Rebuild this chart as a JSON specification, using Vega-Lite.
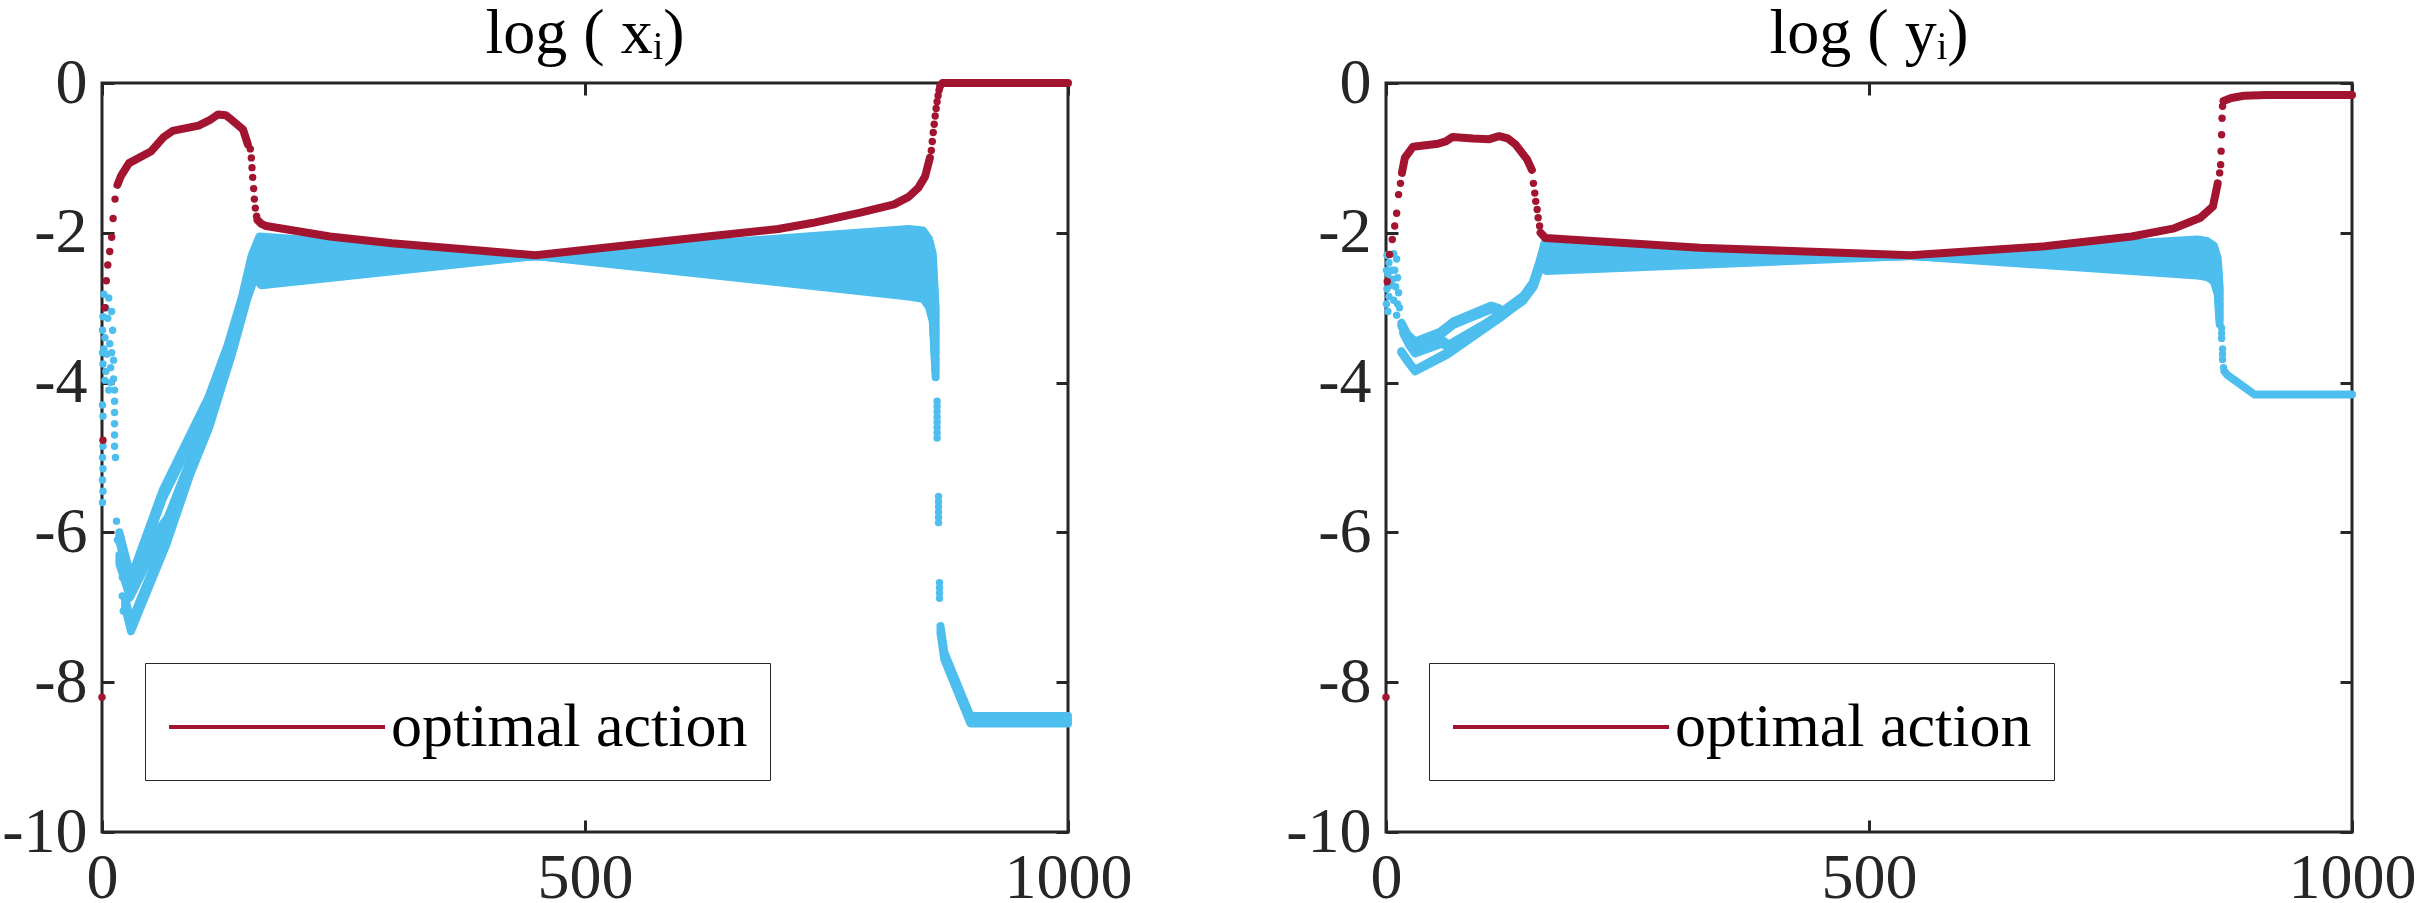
{
  "$schema": "https://vega.github.io/schema/vega-lite/v6.json",
  "padding": 0,
  "background": "white",
  "spacing": 150,
  "resolve": {"scale": {"color": "independent"}, "legend": {"color": "independent"}},
  "config": {
    "font": "Liberation Serif",
    "view": {"stroke": "#262626", "strokeWidth": 3},
    "axis": {
      "grid": false,
      "domain": false,
      "title": null,
      "tickColor": "#262626",
      "tickWidth": 3,
      "tickSize": -12,
      "labelFont": "Liberation Serif",
      "labelFontSize": 64,
      "labelColor": "#262626",
      "labelFlush": false,
      "labelOverlap": false,
      "labelExpr": "datum.value + ''"
    },
    "title": {"font": "Liberation Serif", "fontSize": 64, "fontWeight": "normal", "color": "#000000"}
  },
  "datasets": {
    "xLines": [
      {"k":"0","t":18,"v":-6.0},{"k":"0","t":30,"v":-6.6},{"k":"0","t":63,"v":-5.43},{"k":"0","t":110,"v":-4.2},{"k":"0","t":130,"v":-3.5},{"k":"0","t":145,"v":-2.85},{"k":"0","t":155,"v":-2.3},{"k":"0","t":163,"v":-2.05},{"k":"0","t":449,"v":-2.31},{"k":"0","t":835,"v":-2.85},{"k":"0","t":850,"v":-2.88},{"k":"0","t":856,"v":-2.99},{"k":"0","t":860,"v":-3.18},{"k":"0","t":863,"v":-3.93},
      {"k":"1","t":18,"v":-6.04},{"k":"1","t":30,"v":-6.64},{"k":"1","t":63,"v":-5.47},{"k":"1","t":110,"v":-4.24},{"k":"1","t":130,"v":-3.54},{"k":"1","t":145,"v":-2.89},{"k":"1","t":155,"v":-2.34},{"k":"1","t":163,"v":-2.11},{"k":"1","t":449,"v":-2.31},{"k":"1","t":835,"v":-2.77},{"k":"1","t":850,"v":-2.8},{"k":"1","t":856,"v":-2.91},{"k":"1","t":860,"v":-3.1},{"k":"1","t":863,"v":-3.85},
      {"k":"2","t":18,"v":-6.08},{"k":"2","t":30,"v":-6.68},{"k":"2","t":63,"v":-5.51},{"k":"2","t":110,"v":-4.28},{"k":"2","t":130,"v":-3.58},{"k":"2","t":145,"v":-2.93},{"k":"2","t":155,"v":-2.38},{"k":"2","t":163,"v":-2.17},{"k":"2","t":449,"v":-2.31},{"k":"2","t":835,"v":-2.69},{"k":"2","t":850,"v":-2.72},{"k":"2","t":856,"v":-2.83},{"k":"2","t":860,"v":-3.02},{"k":"2","t":863,"v":-3.77},
      {"k":"3","t":18,"v":-6.12},{"k":"3","t":30,"v":-6.72},{"k":"3","t":63,"v":-5.55},{"k":"3","t":110,"v":-4.32},{"k":"3","t":130,"v":-3.62},{"k":"3","t":145,"v":-2.97},{"k":"3","t":155,"v":-2.42},{"k":"3","t":163,"v":-2.23},{"k":"3","t":449,"v":-2.31},{"k":"3","t":835,"v":-2.61},{"k":"3","t":850,"v":-2.64},{"k":"3","t":856,"v":-2.75},{"k":"3","t":860,"v":-2.94},{"k":"3","t":863,"v":-3.69},
      {"k":"4","t":18,"v":-6.3},{"k":"4","t":29,"v":-6.75},{"k":"4","t":61,"v":-5.92},{"k":"4","t":68,"v":-5.8},{"k":"4","t":112,"v":-4.35},{"k":"4","t":133,"v":-3.55},{"k":"4","t":148,"v":-2.85},{"k":"4","t":158,"v":-2.4},{"k":"4","t":164,"v":-2.29},{"k":"4","t":449,"v":-2.31},{"k":"4","t":835,"v":-2.52},{"k":"4","t":850,"v":-2.55},{"k":"4","t":856,"v":-2.66},{"k":"4","t":860,"v":-2.85},{"k":"4","t":863,"v":-3.6},
      {"k":"5","t":18,"v":-6.34},{"k":"5","t":29,"v":-6.79},{"k":"5","t":61,"v":-5.96},{"k":"5","t":68,"v":-5.84},{"k":"5","t":112,"v":-4.39},{"k":"5","t":133,"v":-3.59},{"k":"5","t":148,"v":-2.89},{"k":"5","t":158,"v":-2.44},{"k":"5","t":164,"v":-2.35},{"k":"5","t":449,"v":-2.31},{"k":"5","t":835,"v":-2.44},{"k":"5","t":850,"v":-2.47},{"k":"5","t":856,"v":-2.58},{"k":"5","t":860,"v":-2.77},{"k":"5","t":863,"v":-3.52},
      {"k":"6","t":18,"v":-6.38},{"k":"6","t":29,"v":-6.83},{"k":"6","t":61,"v":-6.0},{"k":"6","t":68,"v":-5.88},{"k":"6","t":112,"v":-4.43},{"k":"6","t":133,"v":-3.63},{"k":"6","t":148,"v":-2.93},{"k":"6","t":158,"v":-2.48},{"k":"6","t":164,"v":-2.41},{"k":"6","t":449,"v":-2.31},{"k":"6","t":835,"v":-2.36},{"k":"6","t":850,"v":-2.39},{"k":"6","t":856,"v":-2.5},{"k":"6","t":860,"v":-2.69},{"k":"6","t":863,"v":-3.44},
      {"k":"7","t":18,"v":-6.42},{"k":"7","t":29,"v":-6.87},{"k":"7","t":61,"v":-6.04},{"k":"7","t":68,"v":-5.92},{"k":"7","t":112,"v":-4.47},{"k":"7","t":133,"v":-3.67},{"k":"7","t":148,"v":-2.97},{"k":"7","t":158,"v":-2.52},{"k":"7","t":164,"v":-2.46},{"k":"7","t":449,"v":-2.31},{"k":"7","t":835,"v":-2.28},{"k":"7","t":850,"v":-2.31},{"k":"7","t":856,"v":-2.42},{"k":"7","t":860,"v":-2.61},{"k":"7","t":863,"v":-3.36},
      {"k":"8","t":24,"v":-6.88},{"k":"8","t":30,"v":-7.2},{"k":"8","t":67,"v":-6.03},{"k":"8","t":91,"v":-5.12},{"k":"8","t":111,"v":-4.48},{"k":"8","t":135,"v":-3.48},{"k":"8","t":150,"v":-2.78},{"k":"8","t":158,"v":-2.48},{"k":"8","t":165,"v":-2.52},{"k":"8","t":449,"v":-2.31},{"k":"8","t":835,"v":-2.2},{"k":"8","t":850,"v":-2.23},{"k":"8","t":856,"v":-2.34},{"k":"8","t":860,"v":-2.53},{"k":"8","t":863,"v":-3.28},
      {"k":"9","t":24,"v":-6.92},{"k":"9","t":30,"v":-7.24},{"k":"9","t":67,"v":-6.07},{"k":"9","t":91,"v":-5.16},{"k":"9","t":111,"v":-4.52},{"k":"9","t":135,"v":-3.52},{"k":"9","t":150,"v":-2.82},{"k":"9","t":158,"v":-2.52},{"k":"9","t":165,"v":-2.58},{"k":"9","t":449,"v":-2.31},{"k":"9","t":835,"v":-2.11},{"k":"9","t":850,"v":-2.14},{"k":"9","t":856,"v":-2.25},{"k":"9","t":860,"v":-2.44},{"k":"9","t":863,"v":-3.19},
      {"k":"10","t":24,"v":-6.96},{"k":"10","t":30,"v":-7.28},{"k":"10","t":67,"v":-6.11},{"k":"10","t":91,"v":-5.2},{"k":"10","t":111,"v":-4.56},{"k":"10","t":135,"v":-3.56},{"k":"10","t":150,"v":-2.86},{"k":"10","t":158,"v":-2.56},{"k":"10","t":165,"v":-2.64},{"k":"10","t":449,"v":-2.31},{"k":"10","t":835,"v":-2.03},{"k":"10","t":850,"v":-2.05},{"k":"10","t":856,"v":-2.16},{"k":"10","t":860,"v":-2.36},{"k":"10","t":863,"v":-3.11},
      {"k":"11","t":24,"v":-7.0},{"k":"11","t":30,"v":-7.32},{"k":"11","t":67,"v":-6.15},{"k":"11","t":91,"v":-5.24},{"k":"11","t":111,"v":-4.6},{"k":"11","t":135,"v":-3.6},{"k":"11","t":150,"v":-2.9},{"k":"11","t":158,"v":-2.6},{"k":"11","t":165,"v":-2.7},{"k":"11","t":449,"v":-2.31},{"k":"11","t":835,"v":-1.95},{"k":"11","t":850,"v":-1.97},{"k":"11","t":856,"v":-2.08},{"k":"11","t":860,"v":-2.28},{"k":"11","t":863,"v":-3.03},
      {"k":"ta","t":868,"v":-7.25},{"k":"ta","t":872,"v":-7.6},{"k":"ta","t":899,"v":-8.45},{"k":"ta","t":1000,"v":-8.45},
      {"k":"tb","t":868,"v":-7.3},{"k":"tb","t":872,"v":-7.65},{"k":"tb","t":899,"v":-8.5},{"k":"tb","t":1000,"v":-8.5},
      {"k":"tc","t":868,"v":-7.35},{"k":"tc","t":872,"v":-7.7},{"k":"tc","t":899,"v":-8.55},{"k":"tc","t":1000,"v":-8.55}
    ],
    "xDots": [
      {"t":2,"v":-2.82},{"t":7,"v":-2.87},{"t":4,"v":-3.0},{"t":10,"v":-3.05},{"t":1,"v":-3.12},{"t":6,"v":-3.14},{"t":11,"v":-3.3},{"t":0.5,"v":-3.3},{"t":3,"v":-3.4},{"t":8,"v":-3.48},{"t":2,"v":-3.55},{"t":0.5,"v":-3.6},{"t":5,"v":-3.62},{"t":10,"v":-3.6},{"t":12,"v":-3.7},{"t":1,"v":-3.75},{"t":9,"v":-3.8},{"t":4,"v":-3.85},{"t":3,"v":-3.97},{"t":12,"v":-3.95},{"t":9,"v":-4.0},{"t":7,"v":-4.1},{"t":0.5,"v":-4.3},{"t":1,"v":-4.45},{"t":1,"v":-4.85},{"t":0.5,"v":-5.0},{"t":1,"v":-5.15},{"t":0.5,"v":-5.3},{"t":1,"v":-5.45},{"t":0.5,"v":-5.6},{"t":13,"v":-4.1},{"t":13,"v":-4.25},{"t":13,"v":-4.4},{"t":13,"v":-4.55},{"t":13,"v":-4.7},{"t":13,"v":-4.85},{"t":14,"v":-5.0},{"t":15,"v":-5.85},{"t":16,"v":-6.1},{"t":19,"v":-6.35},{"t":21,"v":-6.6},{"t":21,"v":-6.85},{"t":22,"v":-7.05},
      {"t":864.5,"v":-4.25},{"t":864.5,"v":-4.32},{"t":864.5,"v":-4.39},{"t":864.5,"v":-4.46},{"t":864.5,"v":-4.53},{"t":864.5,"v":-4.6},{"t":864.5,"v":-4.67},{"t":864.5,"v":-4.74},
      {"t":866,"v":-5.52},{"t":866,"v":-5.59},{"t":866,"v":-5.66},{"t":866,"v":-5.73},{"t":866,"v":-5.8},{"t":866,"v":-5.87},
      {"t":867,"v":-6.67},{"t":867,"v":-6.74},{"t":867,"v":-6.81},{"t":867,"v":-6.88}
    ],
    "xRed": [
      {"s":"optimal action","g":"a","t":16,"v":-1.36},{"s":"optimal action","g":"a","t":19.7,"v":-1.24},{"s":"optimal action","g":"a","t":28,"v":-1.07},{"s":"optimal action","g":"a","t":51,"v":-0.91},{"s":"optimal action","g":"a","t":64,"v":-0.72},{"s":"optimal action","g":"a","t":73,"v":-0.64},{"s":"optimal action","g":"a","t":100,"v":-0.57},{"s":"optimal action","g":"a","t":111,"v":-0.5},{"s":"optimal action","g":"a","t":120,"v":-0.42},{"s":"optimal action","g":"a","t":128,"v":-0.43},{"s":"optimal action","g":"a","t":135,"v":-0.5},{"s":"optimal action","g":"a","t":146,"v":-0.62},{"s":"optimal action","g":"a","t":151,"v":-0.82},
      {"s":"optimal action","g":"b","t":161,"v":-1.83},{"s":"optimal action","g":"b","t":165,"v":-1.88},{"s":"optimal action","g":"b","t":170,"v":-1.91},{"s":"optimal action","g":"b","t":236,"v":-2.05},{"s":"optimal action","g":"b","t":300,"v":-2.14},{"s":"optimal action","g":"b","t":449,"v":-2.3},{"s":"optimal action","g":"b","t":534,"v":-2.18},{"s":"optimal action","g":"b","t":634,"v":-2.04},{"s":"optimal action","g":"b","t":700,"v":-1.95},{"s":"optimal action","g":"b","t":735,"v":-1.87},{"s":"optimal action","g":"b","t":785,"v":-1.73},{"s":"optimal action","g":"b","t":820,"v":-1.62},{"s":"optimal action","g":"b","t":835,"v":-1.52},{"s":"optimal action","g":"b","t":845,"v":-1.4},{"s":"optimal action","g":"b","t":852,"v":-1.25},{"s":"optimal action","g":"b","t":857,"v":-1.0},
      {"s":"optimal action","g":"c","t":868,"v":-0.03},{"s":"optimal action","g":"c","t":870,"v":0},{"s":"optimal action","g":"c","t":1000,"v":0}
    ],
    "xRedDots": [
      {"t":0,"v":-8.2},{"t":1,"v":-4.77},{"t":3,"v":-3.0},{"t":4.5,"v":-2.64},{"t":6,"v":-2.43},{"t":8,"v":-2.25},{"t":10,"v":-2.06},{"t":11.5,"v":-1.81},{"t":13.5,"v":-1.55},
      {"t":153.5,"v":-0.88},{"t":154.6,"v":-1.0},{"t":155.3,"v":-1.13},{"t":156,"v":-1.26},{"t":157,"v":-1.41},{"t":157.7,"v":-1.55},{"t":158.7,"v":-1.67},{"t":160,"v":-1.78},
      {"t":858.5,"v":-0.9},{"t":859.5,"v":-0.78},{"t":860.5,"v":-0.66},{"t":861.5,"v":-0.55},{"t":862.5,"v":-0.44},{"t":863.5,"v":-0.34},{"t":864.5,"v":-0.25},{"t":865.5,"v":-0.17},{"t":866.5,"v":-0.1},{"t":867.3,"v":-0.06}
    ],
    "yLines": [
      {"k":"0","t":16,"v":-3.2},{"k":"0","t":22,"v":-3.35},{"k":"0","t":30,"v":-3.45},{"k":"0","t":56,"v":-3.32},{"k":"0","t":70,"v":-3.18},{"k":"0","t":109,"v":-2.97},{"k":"0","t":116,"v":-3.0},{"k":"0","t":121,"v":-3.04},{"k":"0","t":142,"v":-2.84},{"k":"0","t":152,"v":-2.66},{"k":"0","t":159,"v":-2.38},{"k":"0","t":164,"v":-2.14},{"k":"0","t":543,"v":-2.31},{"k":"0","t":840,"v":-2.57},{"k":"0","t":850,"v":-2.59},{"k":"0","t":857,"v":-2.65},{"k":"0","t":861,"v":-2.82},{"k":"0","t":863,"v":-3.22},
      {"k":"1","t":16,"v":-3.23},{"k":"1","t":22,"v":-3.38},{"k":"1","t":30,"v":-3.48},{"k":"1","t":56,"v":-3.35},{"k":"1","t":70,"v":-3.21},{"k":"1","t":109,"v":-3.0},{"k":"1","t":116,"v":-3.03},{"k":"1","t":121,"v":-3.07},{"k":"1","t":142,"v":-2.87},{"k":"1","t":152,"v":-2.69},{"k":"1","t":159,"v":-2.41},{"k":"1","t":164,"v":-2.19},{"k":"1","t":543,"v":-2.31},{"k":"1","t":840,"v":-2.5},{"k":"1","t":850,"v":-2.52},{"k":"1","t":857,"v":-2.58},{"k":"1","t":861,"v":-2.75},{"k":"1","t":863,"v":-3.15},
      {"k":"2","t":16,"v":-3.25},{"k":"2","t":22,"v":-3.4},{"k":"2","t":30,"v":-3.5},{"k":"2","t":56,"v":-3.37},{"k":"2","t":70,"v":-3.23},{"k":"2","t":109,"v":-3.02},{"k":"2","t":116,"v":-3.05},{"k":"2","t":121,"v":-3.09},{"k":"2","t":142,"v":-2.89},{"k":"2","t":152,"v":-2.71},{"k":"2","t":159,"v":-2.43},{"k":"2","t":164,"v":-2.25},{"k":"2","t":543,"v":-2.31},{"k":"2","t":840,"v":-2.43},{"k":"2","t":850,"v":-2.45},{"k":"2","t":857,"v":-2.51},{"k":"2","t":861,"v":-2.68},{"k":"2","t":863,"v":-3.08},
      {"k":"3","t":18,"v":-3.3},{"k":"3","t":24,"v":-3.45},{"k":"3","t":30,"v":-3.56},{"k":"3","t":58,"v":-3.43},{"k":"3","t":65,"v":-3.49},{"k":"3","t":104,"v":-3.2},{"k":"3","t":120,"v":-3.06},{"k":"3","t":142,"v":-2.86},{"k":"3","t":152,"v":-2.68},{"k":"3","t":159,"v":-2.42},{"k":"3","t":165,"v":-2.3},{"k":"3","t":543,"v":-2.31},{"k":"3","t":840,"v":-2.36},{"k":"3","t":850,"v":-2.38},{"k":"3","t":857,"v":-2.44},{"k":"3","t":861,"v":-2.61},{"k":"3","t":863,"v":-3.01},
      {"k":"4","t":18,"v":-3.33},{"k":"4","t":24,"v":-3.48},{"k":"4","t":30,"v":-3.59},{"k":"4","t":58,"v":-3.46},{"k":"4","t":65,"v":-3.52},{"k":"4","t":104,"v":-3.23},{"k":"4","t":120,"v":-3.09},{"k":"4","t":142,"v":-2.89},{"k":"4","t":152,"v":-2.71},{"k":"4","t":159,"v":-2.45},{"k":"4","t":165,"v":-2.35},{"k":"4","t":543,"v":-2.31},{"k":"4","t":840,"v":-2.3},{"k":"4","t":850,"v":-2.32},{"k":"4","t":857,"v":-2.38},{"k":"4","t":861,"v":-2.55},{"k":"4","t":863,"v":-2.95},
      {"k":"5","t":18,"v":-3.35},{"k":"5","t":24,"v":-3.5},{"k":"5","t":30,"v":-3.61},{"k":"5","t":58,"v":-3.48},{"k":"5","t":65,"v":-3.54},{"k":"5","t":104,"v":-3.25},{"k":"5","t":120,"v":-3.11},{"k":"5","t":142,"v":-2.91},{"k":"5","t":152,"v":-2.73},{"k":"5","t":159,"v":-2.47},{"k":"5","t":165,"v":-2.4},{"k":"5","t":543,"v":-2.31},{"k":"5","t":840,"v":-2.23},{"k":"5","t":850,"v":-2.25},{"k":"5","t":857,"v":-2.31},{"k":"5","t":861,"v":-2.48},{"k":"5","t":863,"v":-2.88},
      {"k":"6","t":16,"v":-3.58},{"k":"6","t":24,"v":-3.73},{"k":"6","t":30,"v":-3.83},{"k":"6","t":63,"v":-3.6},{"k":"6","t":120,"v":-3.1},{"k":"6","t":142,"v":-2.88},{"k":"6","t":153,"v":-2.7},{"k":"6","t":160,"v":-2.44},{"k":"6","t":166,"v":-2.46},{"k":"6","t":543,"v":-2.31},{"k":"6","t":840,"v":-2.16},{"k":"6","t":850,"v":-2.18},{"k":"6","t":857,"v":-2.24},{"k":"6","t":861,"v":-2.41},{"k":"6","t":863,"v":-2.81},
      {"k":"7","t":16,"v":-3.6},{"k":"7","t":24,"v":-3.75},{"k":"7","t":30,"v":-3.85},{"k":"7","t":63,"v":-3.63},{"k":"7","t":120,"v":-3.12},{"k":"7","t":142,"v":-2.9},{"k":"7","t":153,"v":-2.72},{"k":"7","t":160,"v":-2.46},{"k":"7","t":166,"v":-2.51},{"k":"7","t":543,"v":-2.31},{"k":"7","t":840,"v":-2.09},{"k":"7","t":850,"v":-2.11},{"k":"7","t":857,"v":-2.17},{"k":"7","t":861,"v":-2.34},{"k":"7","t":863,"v":-2.74},
      {"k":"t","t":868,"v":-3.85},{"k":"t","t":871,"v":-3.9},{"k":"t","t":899,"v":-4.16},{"k":"t","t":1000,"v":-4.16}
    ],
    "yDots": [
      {"t":1,"v":-2.3},{"t":3,"v":-2.4},{"t":8,"v":-2.28},{"t":11,"v":-2.35},{"t":0.5,"v":-2.5},{"t":6,"v":-2.5},{"t":9,"v":-2.5},{"t":2,"v":-2.55},{"t":12,"v":-2.6},{"t":7,"v":-2.62},{"t":4,"v":-2.65},{"t":5,"v":-2.7},{"t":10,"v":-2.72},{"t":1,"v":-2.75},{"t":13,"v":-2.8},{"t":3,"v":-2.85},{"t":8,"v":-2.9},{"t":0.5,"v":-2.95},{"t":12,"v":-2.95},{"t":14,"v":-3.0},{"t":2,"v":-3.05},{"t":11,"v":-3.1},
      {"t":865,"v":-3.27},{"t":865,"v":-3.34},{"t":865,"v":-3.41},{"t":866,"v":-3.55},{"t":866,"v":-3.62},{"t":866,"v":-3.69},{"t":867,"v":-3.8}
    ],
    "yRed": [
      {"s":"optimal action","g":"a","t":16.5,"v":-1.2},{"s":"optimal action","g":"a","t":19.5,"v":-1.0},{"s":"optimal action","g":"a","t":28,"v":-0.85},{"s":"optimal action","g":"a","t":54,"v":-0.81},{"s":"optimal action","g":"a","t":62,"v":-0.78},{"s":"optimal action","g":"a","t":69,"v":-0.72},{"s":"optimal action","g":"a","t":90,"v":-0.74},{"s":"optimal action","g":"a","t":107,"v":-0.75},{"s":"optimal action","g":"a","t":117,"v":-0.71},{"s":"optimal action","g":"a","t":126,"v":-0.74},{"s":"optimal action","g":"a","t":134,"v":-0.82},{"s":"optimal action","g":"a","t":146,"v":-1.02},{"s":"optimal action","g":"a","t":151,"v":-1.16},
      {"s":"optimal action","g":"b","t":160,"v":-2.0},{"s":"optimal action","g":"b","t":165,"v":-2.07},{"s":"optimal action","g":"b","t":325,"v":-2.2},{"s":"optimal action","g":"b","t":543,"v":-2.3},{"s":"optimal action","g":"b","t":682,"v":-2.18},{"s":"optimal action","g":"b","t":772,"v":-2.05},{"s":"optimal action","g":"b","t":816,"v":-1.94},{"s":"optimal action","g":"b","t":843,"v":-1.8},{"s":"optimal action","g":"b","t":856,"v":-1.65},{"s":"optimal action","g":"b","t":861,"v":-1.34},
      {"s":"optimal action","g":"c","t":867,"v":-0.24},{"s":"optimal action","g":"c","t":875,"v":-0.2},{"s":"optimal action","g":"c","t":888,"v":-0.17},{"s":"optimal action","g":"c","t":911,"v":-0.16},{"s":"optimal action","g":"c","t":1000,"v":-0.16}
    ],
    "yRedDots": [
      {"t":0,"v":-8.2},{"t":1.3,"v":-2.65},{"t":3.7,"v":-2.29},{"t":6.5,"v":-2.09},{"t":9,"v":-1.91},{"t":11,"v":-1.74},{"t":13,"v":-1.49},{"t":15,"v":-1.34},
      {"t":152.6,"v":-1.34},{"t":154,"v":-1.47},{"t":155,"v":-1.58},{"t":156.5,"v":-1.69},{"t":157.5,"v":-1.8},{"t":159,"v":-1.91},
      {"t":863,"v":-1.2},{"t":864,"v":-1.09},{"t":864.5,"v":-0.91},{"t":865,"v":-0.69},{"t":865.5,"v":-0.47},{"t":866,"v":-0.31}
    ]
  },
  "hconcat": [
    {
      "width": 966,
      "height": 749,
      "title": {"text": "log ( xᵢ)", "anchor": "middle", "offset": -15},
      "resolve": {"axis": {"x": "independent", "y": "independent"}},
      "layer": [
        {
          "data": {"name": "xLines"},
          "mark": {"type": "line", "color": "#4dbeee", "strokeWidth": 8, "strokeJoin": "round", "strokeCap": "round"},
          "encoding": {
            "x": {"field": "t", "type": "quantitative", "scale": {"domain": [0, 1000], "nice": false}, "axis": {"orient": "bottom", "values": [0, 500, 1000], "labelPadding": 26}},
            "y": {"field": "v", "type": "quantitative", "scale": {"domain": [-10, 0], "nice": false}, "axis": {"orient": "left", "values": [0, -2, -4, -6, -8, -10], "labelPadding": 27}},
            "detail": {"field": "k", "type": "nominal"}
          }
        },
        {
          "data": {"name": "xDots"},
          "mark": {"type": "circle", "color": "#4dbeee", "size": 55, "opacity": 1},
          "encoding": {
            "x": {"field": "t", "type": "quantitative", "axis": null},
            "y": {"field": "v", "type": "quantitative", "axis": null}
          }
        },
        {
          "data": {"name": "xRed"},
          "mark": {"type": "line", "strokeWidth": 8, "strokeJoin": "round", "strokeCap": "round"},
          "encoding": {
            "x": {"field": "t", "type": "quantitative", "axis": null},
            "y": {"field": "v", "type": "quantitative", "axis": null},
            "detail": {"field": "g", "type": "nominal"},
            "color": {
              "field": "s", "type": "nominal",
              "scale": {"domain": ["optimal action"], "range": ["#a2142f"]},
              "legend": {
                "title": null, "orient": "none", "legendX": 43, "legendY": 580, "padding": 22,
                "strokeColor": "#262626", "fillColor": "white", "cornerRadius": 0,
                "symbolType": "M-1,0H4.4", "symbolSize": 6400, "symbolStrokeWidth": 4, "symbolFillColor": "transparent", "symbolStrokeColor": "#a2142f",
                "labelOffset": 140, "labelLimit": 1000, "labelFont": "Liberation Serif", "labelFontSize": 62, "labelColor": "#000000"
              }
            }
          }
        },
        {
          "data": {"name": "xRedDots"},
          "mark": {"type": "circle", "color": "#a2142f", "size": 55, "opacity": 1},
          "encoding": {
            "x": {"field": "t", "type": "quantitative", "axis": {"orient": "top", "values": [0, 500, 1000], "labels": false}},
            "y": {"field": "v", "type": "quantitative", "axis": {"orient": "right", "values": [0, -2, -4, -6, -8, -10], "labels": false}}
          }
        }
      ]
    },
    {
      "width": 966,
      "height": 749,
      "title": {"text": "log ( yᵢ)", "anchor": "middle", "offset": -15},
      "resolve": {"axis": {"x": "independent", "y": "independent"}},
      "layer": [
        {
          "data": {"name": "yLines"},
          "mark": {"type": "line", "color": "#4dbeee", "strokeWidth": 8, "strokeJoin": "round", "strokeCap": "round"},
          "encoding": {
            "x": {"field": "t", "type": "quantitative", "scale": {"domain": [0, 1000], "nice": false}, "axis": {"orient": "bottom", "values": [0, 500, 1000], "labelPadding": 26}},
            "y": {"field": "v", "type": "quantitative", "scale": {"domain": [-10, 0], "nice": false}, "axis": {"orient": "left", "values": [0, -2, -4, -6, -8, -10], "labelPadding": 27}},
            "detail": {"field": "k", "type": "nominal"}
          }
        },
        {
          "data": {"name": "yDots"},
          "mark": {"type": "circle", "color": "#4dbeee", "size": 55, "opacity": 1},
          "encoding": {
            "x": {"field": "t", "type": "quantitative", "axis": null},
            "y": {"field": "v", "type": "quantitative", "axis": null}
          }
        },
        {
          "data": {"name": "yRed"},
          "mark": {"type": "line", "strokeWidth": 8, "strokeJoin": "round", "strokeCap": "round"},
          "encoding": {
            "x": {"field": "t", "type": "quantitative", "axis": null},
            "y": {"field": "v", "type": "quantitative", "axis": null},
            "detail": {"field": "g", "type": "nominal"},
            "color": {
              "field": "s", "type": "nominal",
              "scale": {"domain": ["optimal action"], "range": ["#a2142f"]},
              "legend": {
                "title": null, "orient": "none", "legendX": 43, "legendY": 580, "padding": 22,
                "strokeColor": "#262626", "fillColor": "white", "cornerRadius": 0,
                "symbolType": "M-1,0H4.4", "symbolSize": 6400, "symbolStrokeWidth": 4, "symbolFillColor": "transparent", "symbolStrokeColor": "#a2142f",
                "labelOffset": 140, "labelLimit": 1000, "labelFont": "Liberation Serif", "labelFontSize": 62, "labelColor": "#000000"
              }
            }
          }
        },
        {
          "data": {"name": "yRedDots"},
          "mark": {"type": "circle", "color": "#a2142f", "size": 55, "opacity": 1},
          "encoding": {
            "x": {"field": "t", "type": "quantitative", "axis": {"orient": "top", "values": [0, 500, 1000], "labels": false}},
            "y": {"field": "v", "type": "quantitative", "axis": {"orient": "right", "values": [0, -2, -4, -6, -8, -10], "labels": false}}
          }
        }
      ]
    }
  ]
}
